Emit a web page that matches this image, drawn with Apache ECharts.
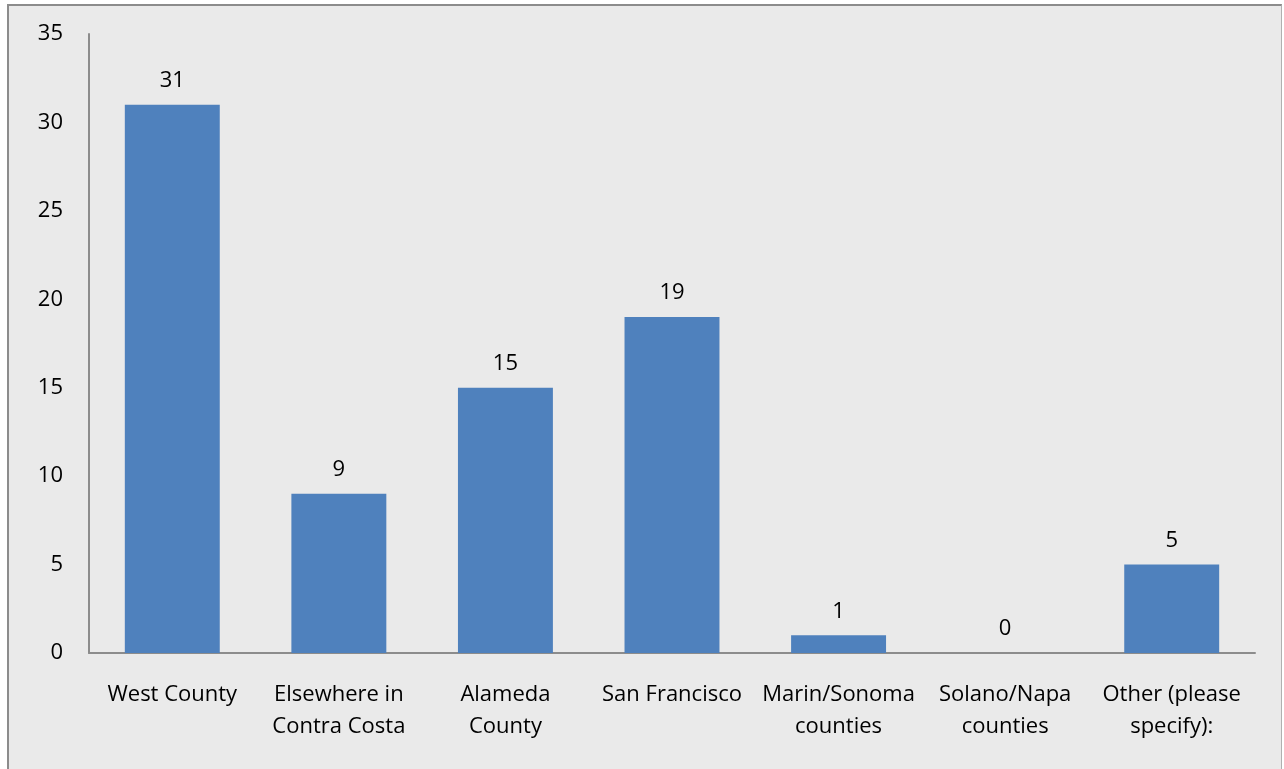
<!DOCTYPE html>
<html>
<head>
<meta charset="utf-8">
<script src="https://cdn.jsdelivr.net/npm/echarts@6/dist/echarts.min.js"></script>
<style>
  html, body { margin: 0; padding: 0; background: #ffffff; }
  .frame {
    position: absolute;
    left: 7px;
    top: 4px;
    width: 1275px;
    height: 780px;
    border: 2px solid #8c8c8c;
    border-right: 1px solid #b0b0b0;
    background: #eaeaea;
    box-sizing: border-box;
    overflow: hidden;
  }
  #chart {
    position: absolute;
    left: -9px;
    top: -6px;
    width: 1284px;
    height: 769px;
  }
</style>
</head>
<body>
<div class="frame">
  <div id="chart"></div>
</div>
<script>
  // categories and counts
  const categories = [
    'West County',
    'Elsewhere in\nContra Costa',
    'Alameda\nCounty',
    'San Francisco',
    'Marin/Sonoma\ncounties',
    'Solano/Napa\ncounties',
    'Other (please\nspecify):'
  ];
  const counts = [31, 9, 15, 19, 1, 0, 5];

  const chart = echarts.init(document.getElementById('chart'));

  const option = {
    backgroundColor: 'transparent',
    textStyle: { fontFamily: 'Open Sans', color: '#000' },
    grid: { left: 89, right: 29, top: 34, bottom: 116 },
    xAxis: {
      type: 'category',
      data: categories,
      axisLine: { lineStyle: { color: '#8c8c8c', width: 2 } },
      axisTick: { show: false },
      axisLabel: {
        color: '#000',
        fontSize: 22,
        lineHeight: 32,
        margin: 26,
        interval: 0
      }
    },
    yAxis: {
      type: 'value',
      min: 0,
      max: 35,
      interval: 5,
      axisLine: { show: true, lineStyle: { color: '#8c8c8c', width: 2 } },
      axisTick: { show: false },
      splitLine: { show: false },
      axisLabel: { color: '#000', fontSize: 22, margin: 26 }
    },
    series: [{
      type: 'bar',
      data: counts,
      barWidth: '57%',
      itemStyle: { color: '#4f81bd' },
      label: {
        show: true,
        position: 'top',
        distance: 13,
        color: '#000',
        fontSize: 22
      }
    }]
  };

  chart.setOption(option);
</script>
</body>
</html>
